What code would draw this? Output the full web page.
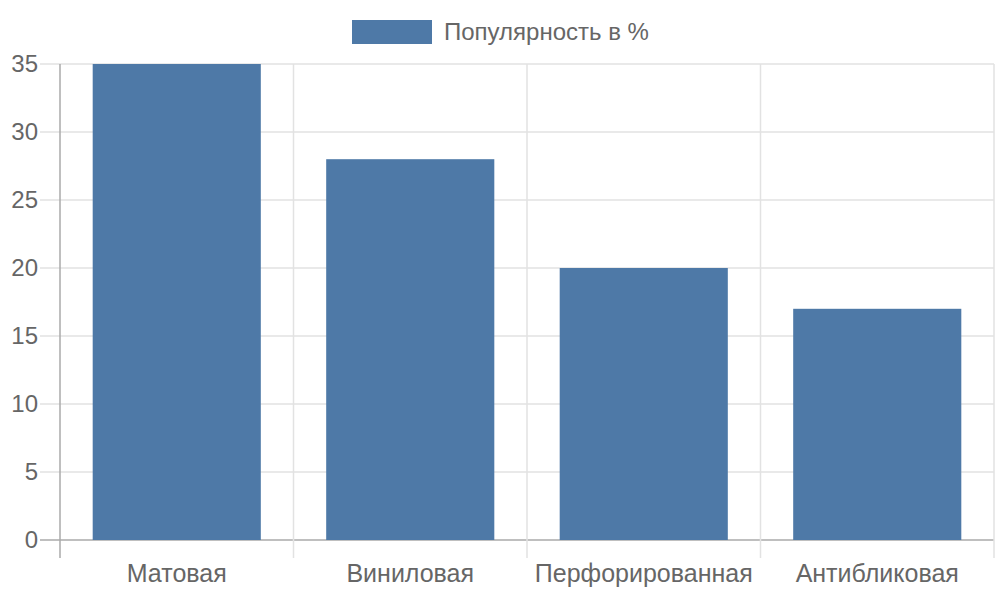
<!DOCTYPE html>
<html>
<head>
<meta charset="utf-8">
<script src="https://cdn.jsdelivr.net/npm/d3@7"></script>
<style>
  body { margin: 0; background: #fff; }
  text { font-family: "Liberation Sans", Arial, sans-serif; fill: #666; }
</style>
</head>
<body>
<div id="chart"></div>
<script>
const categories = ["Матовая", "Виниловая", "Перфорированная", "Антибликовая"];
const values = [35, 28, 20, 17];
const yTicks = [0, 5, 10, 15, 20, 25, 30, 35];
const seriesName = "Популярность в %";

const width = 1000;
const height = 600;
const margin = { top: 64, right: 6, bottom: 60, left: 60 };
const barColor = "#4e79a7";

const svg = d3
  .select("#chart")
  .append("svg")
  .attr("width", width)
  .attr("height", height);

const x = d3
  .scaleBand()
  .domain(categories)
  .range([margin.left, width - margin.right])
  .paddingInner(0.28)
  .paddingOuter(0.14);

const xCat = d3
  .scaleBand()
  .domain(categories)
  .range([margin.left, width - margin.right]);

const y = d3
  .scaleLinear()
  .domain([0, 35])
  .range([height - margin.bottom, margin.top]);

// horizontal grid
svg
  .append("g")
  .selectAll("line")
  .data(yTicks)
  .enter()
  .append("line")
  .attr("x1", margin.left - 20)
  .attr("x2", width - margin.right)
  .attr("y1", (d) => y(d))
  .attr("y2", (d) => y(d))
  .style("stroke", (d) => (d === 0 ? "#aaa" : "#e2e2e2"))
  .style("stroke-width", 1.5);

// vertical grid at category boundaries
const bounds = categories.map((c) => xCat(c)).concat([width - margin.right]);
svg
  .append("g")
  .selectAll("line")
  .data(bounds)
  .enter()
  .append("line")
  .attr("x1", (d) => d)
  .attr("x2", (d) => d)
  .attr("y1", margin.top)
  .attr("y2", height - margin.bottom + 18)
  .style("stroke", (d, i) => (i === 0 ? "#aaa" : "#e2e2e2"))
  .style("stroke-width", 1.5);

// bars
svg
  .append("g")
  .selectAll("rect")
  .data(values)
  .enter()
  .append("rect")
  .attr("x", (d, i) => x(categories[i]))
  .attr("width", x.bandwidth())
  .attr("y", (d) => y(d))
  .attr("height", (d) => y(0) - y(d))
  .style("fill", barColor);

// y tick labels
svg
  .append("g")
  .selectAll("text")
  .data(yTicks)
  .enter()
  .append("text")
  .attr("x", margin.left - 22)
  .attr("y", (d) => y(d))
  .attr("dy", "0.35em")
  .attr("text-anchor", "end")
  .style("font-size", "24px")
  .text((d) => d);

// x tick labels
svg
  .append("g")
  .selectAll("text")
  .data(categories)
  .enter()
  .append("text")
  .attr("x", (d) => xCat(d) + xCat.bandwidth() / 2)
  .attr("y", height - margin.bottom + 42)
  .attr("text-anchor", "middle")
  .style("font-size", "25px")
  .text((d) => d);

// legend
const legend = svg.append("g");
legend
  .append("rect")
  .attr("x", 352)
  .attr("y", 20)
  .attr("width", 80)
  .attr("height", 24)
  .style("fill", barColor);
legend
  .append("text")
  .attr("x", 444)
  .attr("y", 32)
  .attr("dy", "0.35em")
  .style("font-size", "24px")
  .text(seriesName);
</script>
</body>
</html>
